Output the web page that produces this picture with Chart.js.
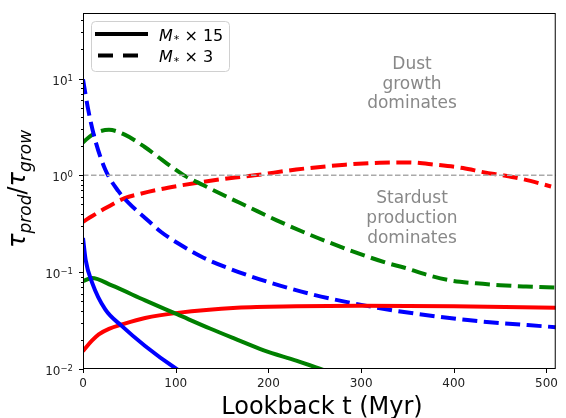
<!DOCTYPE html>
<html>
<head>
<meta charset="utf-8">
<script src="https://cdn.jsdelivr.net/npm/chart.js@4"></script>
<style>
  body { margin: 0; background: #fff; }
  #wrap { width: 566px; height: 418px; }
</style>
</head>
<body>
<div id="wrap"><canvas id="ratio"></canvas></div>
<script>
// lookback time (Myr) and tau_prod / tau_grow for each model
const blue15T = [0, 2.8, 9.9, 24, 42, 67, 99, 130];
const blue15 = [0.226, 0.135, 0.0776, 0.0412, 0.0277, 0.0173, 0.0103, 0.0068];

const green15T = [0, 9.6, 31, 67, 102, 137, 163, 195, 230, 262];
const green15 = [0.0807, 0.0871, 0.0729, 0.0511, 0.0366, 0.0262, 0.0207, 0.0156, 0.0122, 0.0096];

const red15T = [0, 9.6, 17, 28, 42, 67, 102, 166, 230, 300, 400, 510];
const red15 = [0.0153, 0.0196, 0.0228, 0.026, 0.0288, 0.0336, 0.038, 0.043, 0.0445, 0.045, 0.0445, 0.043];

const blue3T = [0, 6, 13, 24, 38, 50, 67, 85, 102, 130, 160, 200, 244, 290, 337, 415, 510];
const blue3 = [9.8, 4.57, 2.34, 1.15, 0.69, 0.51, 0.363, 0.257, 0.20, 0.141, 0.107, 0.079, 0.060, 0.048, 0.040, 0.032, 0.027];

const green3T = [0, 10, 28, 45, 67, 85, 109, 130, 156, 177, 209, 262, 326, 347, 371, 397, 424, 450, 478, 510];
const green3 = [2.19, 2.63, 2.95, 2.63, 1.95, 1.45, 1.0, 0.79, 0.596, 0.479, 0.343, 0.209, 0.126, 0.111, 0.094, 0.082, 0.0767, 0.0733, 0.0711, 0.0692];

const red3T = [0, 10, 25, 45, 60, 80, 102, 130, 160, 185, 230, 283, 320, 350, 380, 410, 433, 453, 475, 505];
const red3 = [0.331, 0.38, 0.462, 0.582, 0.638, 0.708, 0.776, 0.859, 0.94, 1.0, 1.148, 1.288, 1.349, 1.361, 1.288, 1.189, 1.072, 1.0, 0.912, 0.767];

const equalLineT = [0, 510];
const equalLine = [1, 1];

const xTicks = [0, 100, 200, 300, 400, 500];
const legendLabels = ['15', '3'];
const upperNote = ['Dust', 'growth', 'dominates'];
const lowerNote = ['Stardust', 'production', 'dominates'];

const FONT = "'DejaVu Sans', sans-serif";
const DASH = [15, 6.5];

function pts(ts, vs) {
  return ts.map((t, i) => ({ x: t, y: vs[i] }));
}

function curve(ts, vs, color, dashed) {
  return {
    data: pts(ts, vs),
    borderColor: color,
    borderWidth: 4,
    borderDash: dashed ? DASH : [],
    borderCapStyle: 'butt',
    pointRadius: 0,
    cubicInterpolationMode: 'monotone',
    fill: false,
  };
}

function decade(v) {
  const l = Math.log10(v);
  return Math.abs(l - Math.round(l)) < 1e-6 ? Math.round(l) : null;
}

// frame, tick marks, tick labels on the log axis, titles, notes, legend
const decorations = {
  id: 'decorations',
  afterDraw(chart) {
    const { ctx, chartArea: a, scales } = chart;
    ctx.save();

    ctx.strokeStyle = '#000';
    ctx.lineWidth = 1;
    ctx.setLineDash([]);
    ctx.strokeRect(a.left + 0.5, a.top + 0.5, a.right - a.left - 1, a.bottom - a.top - 1);

    ctx.beginPath();
    scales.x.ticks.forEach(t => {
      const px = Math.round(scales.x.getPixelForValue(t.value)) + 0.5;
      ctx.moveTo(px, a.bottom);
      ctx.lineTo(px, a.bottom + 4);
    });
    const majors = [];
    scales.y.ticks.forEach(t => {
      const l = Math.log10(t.value);
      const sig = t.value / Math.pow(10, Math.floor(l + 1e-9));
      if (Math.abs(sig - Math.round(sig)) > 1e-6) return;
      const e = decade(t.value);
      const py = Math.round(scales.y.getPixelForValue(t.value)) + 0.5;
      if (e !== null) majors.push([e, py]);
      ctx.moveTo(a.left, py);
      ctx.lineTo(a.left - (e !== null ? 4 : 2), py);
    });
    ctx.stroke();

    // 10^n labels
    ctx.fillStyle = '#222';
    majors.forEach(([e, py]) => {
      const exp = String(e).replace('-', '\u2212');
      ctx.font = '8.5px ' + FONT;
      const ew = ctx.measureText(exp).width;
      ctx.textAlign = 'left';
      ctx.fillText(exp, 73 - ew, py + 1.5);
      ctx.font = '12px ' + FONT;
      ctx.textAlign = 'right';
      ctx.fillText('10', 73 - ew, py + 5.5);
    });

    // x title
    ctx.fillStyle = '#000';
    ctx.font = '24px ' + FONT;
    ctx.textAlign = 'center';
    ctx.textBaseline = 'alphabetic';
    ctx.fillText('Lookback t (Myr)', 322, 414);

    // y title, written bottom to top
    ctx.save();
    ctx.translate(25, 248);
    ctx.rotate(-Math.PI / 2);
    ctx.textAlign = 'left';
    let x = 0;
    const parts = [
      ['\u03c4', 'italic 24px ', 0],
      ['prod', 'italic 17px ', 6],
      ['/', '24px ', 0],
      ['\u03c4', 'italic 24px ', 0],
      ['grow', 'italic 17px ', 6],
    ];
    parts.forEach(([s, f, dy]) => {
      ctx.font = f + FONT;
      ctx.fillText(s, x, dy);
      x += ctx.measureText(s).width;
    });
    ctx.restore();

    // region notes
    ctx.fillStyle = '#888';
    ctx.font = '17px ' + FONT;
    ctx.textAlign = 'center';
    upperNote.forEach((s, i) => ctx.fillText(s, 412, 69 + i * 19.5));
    lowerNote.forEach((s, i) => ctx.fillText(s, 412, 203 + i * 19.8));

    // legend
    ctx.beginPath();
    ctx.roundRect(91.5, 21.5, 138, 50, 4);
    ctx.fillStyle = 'rgba(255,255,255,0.8)';
    ctx.fill();
    ctx.strokeStyle = '#d0d0d0';
    ctx.lineWidth = 1;
    ctx.stroke();

    ctx.strokeStyle = '#000';
    ctx.lineWidth = 4;
    ctx.lineCap = 'butt';
    ctx.beginPath();
    ctx.moveTo(95, 34);
    ctx.lineTo(148, 34);
    ctx.stroke();
    ctx.setLineDash([15, 10]);
    ctx.beginPath();
    ctx.moveTo(98, 55.5);
    ctx.lineTo(140, 55.5);
    ctx.stroke();
    ctx.setLineDash([]);

    ctx.fillStyle = '#000';
    ctx.textAlign = 'left';
    legendLabels.forEach((n, i) => {
      const base = 40.7 + i * 21.5;
      let lx = 159;
      ctx.font = 'italic 16px ' + FONT;
      ctx.fillText('M', lx, base);
      lx += ctx.measureText('M').width;
      ctx.font = '11px ' + FONT;
      ctx.fillText('*', lx + 1, base + 2.5);
      lx += ctx.measureText('*').width + 1;
      ctx.font = '16px ' + FONT;
      ctx.fillText(' \u00d7 ' + n, lx, base);
    });

    ctx.restore();
  }
};

new Chart(document.getElementById('ratio'), {
  type: 'line',
  data: {
    datasets: [
      {
        data: pts(equalLineT, equalLine),
        borderColor: '#aaaaaa',
        borderWidth: 1.5,
        borderDash: [5.5, 2.5],
        pointRadius: 0,
      },
      curve(blue15T, blue15, '#0000ff', false),
      curve(green15T, green15, '#008000', false),
      curve(red15T, red15, '#ff0000', false),
      curve(blue3T, blue3, '#0000ff', true),
      curve(green3T, green3, '#008000', true),
      curve(red3T, red3, '#ff0000', true),
    ]
  },
  options: {
    responsive: true,
    maintainAspectRatio: false,
    animation: false,
    layout: { padding: { top: 13, right: 4, left: 0, bottom: 0 } },
    plugins: { legend: { display: false }, tooltip: { enabled: false } },
    scales: {
      x: {
        type: 'linear',
        min: 0,
        max: 510,
        afterBuildTicks: s => { s.ticks = xTicks.map(v => ({ value: v })); },
        afterFit: s => { s.height = 49; },
        border: { display: false },
        grid: { display: false, drawTicks: false },
        ticks: {
          padding: 8,
          color: '#222',
          font: { family: 'DejaVu Sans', size: 12 },
          maxRotation: 0,
          autoSkip: false,
        },
      },
      y: {
        type: 'logarithmic',
        min: 0.01,
        max: 47.5,
        afterFit: s => { s.width = 83; },
        border: { display: false },
        grid: { display: false, drawTicks: false },
        ticks: { display: false },
      },
    },
  },
  plugins: [decorations],
});
</script>
</body>
</html>
